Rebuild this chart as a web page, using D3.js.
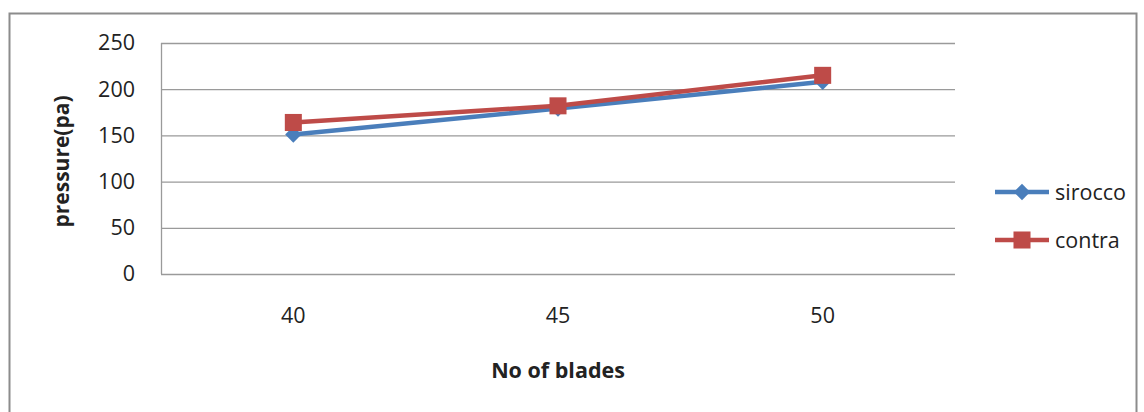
<!DOCTYPE html>
<html><head><meta charset="utf-8">
<script src="https://cdn.jsdelivr.net/npm/d3@7"></script>
<style>body{margin:0;background:#fff}svg{display:block}text{font-family:"Open Sans",sans-serif;fill:#222}</style>
</head><body><svg id="c" width="1144" height="412"></svg>
<script>
const categories = ["40","45","50"];
const sirocco = [151, 179, 208];
const contra = [164, 182, 215];
const yTicks = [0,50,100,150,200,250];
const seriesNames = ["sirocco","contra"];
const colors = ["#4a7ebb","#be4b48"];

const svg = d3.select("#c");
svg.append("rect").attr("x",9.5).attr("y",13.5).attr("width",1127).attr("height",420)
  .attr("fill","#fff").attr("stroke","#8c8c8c").attr("stroke-width",2);

const L=161,R=955,T=43,B=274;
const x = d3.scaleBand().domain(categories).range([L,R]);
const y = d3.scaleLinear().domain([0,250]).range([B,T]);

const grid = svg.append("g");
grid.selectAll("line").data(yTicks).join("line")
  .attr("x1",L).attr("x2",R).attr("y1",d=>y(d)+0.5).attr("y2",d=>y(d)+0.5)
  .attr("stroke","#9a9a9a").attr("stroke-width",1.3);
svg.append("line").attr("x1",L+0.5).attr("x2",L+0.5).attr("y1",T).attr("y2",B)
  .attr("stroke","#9a9a9a").attr("stroke-width",1.3);

const yAxis = d3.axisLeft(y).tickValues(yTicks).tickSize(0).tickPadding(0);
const ga = svg.append("g").attr("transform",`translate(${L-26},0)`).call(yAxis);
ga.select(".domain").remove();
ga.selectAll("text").style("font-size","21.5px").attr("fill","#222").style("font-family","'Open Sans',sans-serif");

const xAxis = d3.axisBottom(x).tickSize(0).tickPadding(0);
const gx = svg.append("g").attr("transform",`translate(0,${B+34})`).call(xAxis);
gx.select(".domain").remove();
gx.selectAll("text").style("font-size","21.5px").attr("fill","#222").style("font-family","'Open Sans',sans-serif");

svg.append("text").attr("transform",`translate(69,${(T+B)/2+3}) rotate(-90)`).attr("text-anchor","middle")
  .style("font-size","21px").style("font-weight","bold").text("pressure(pa)");
svg.append("text").attr("x",(L+R)/2).attr("y",378).attr("text-anchor","middle")
  .style("font-size","21.5px").style("font-weight","bold").text("No of blades");

const line = d3.line().x((d,i)=>x(categories[i])+x.bandwidth()/2).y(d=>y(d));
const data=[sirocco,contra];
data.forEach((s,k)=>{
  svg.append("path").attr("d",line(s)).attr("fill","none").attr("stroke",colors[k]).attr("stroke-width",4.5);
  svg.selectAll(null).data(s).join("path")
    .attr("transform",(d,i)=>`translate(${x(categories[i])+x.bandwidth()/2},${y(d)})`)
    .attr("d", k===0 ? d3.symbol().type(d3.symbolDiamond2).size(170)() : d3.symbol().type(d3.symbolSquare).size(290)())
    .attr("fill",colors[k]);
});

// legend
const leg = svg.append("g");
seriesNames.forEach((n,k)=>{
  const ly = 192 + k*48;
  leg.append("line").attr("x1",995).attr("x2",1049).attr("y1",ly).attr("y2",ly).attr("stroke",colors[k]).attr("stroke-width",4.5);
  leg.append("path").attr("transform",`translate(1022,${ly})`)
    .attr("d", k===0 ? d3.symbol().type(d3.symbolDiamond2).size(170)() : d3.symbol().type(d3.symbolSquare).size(290)())
    .attr("fill",colors[k]);
  leg.append("text").attr("x",1055).attr("y",ly+8).style("font-size","21.5px").text(n);
});
</script></body></html>
